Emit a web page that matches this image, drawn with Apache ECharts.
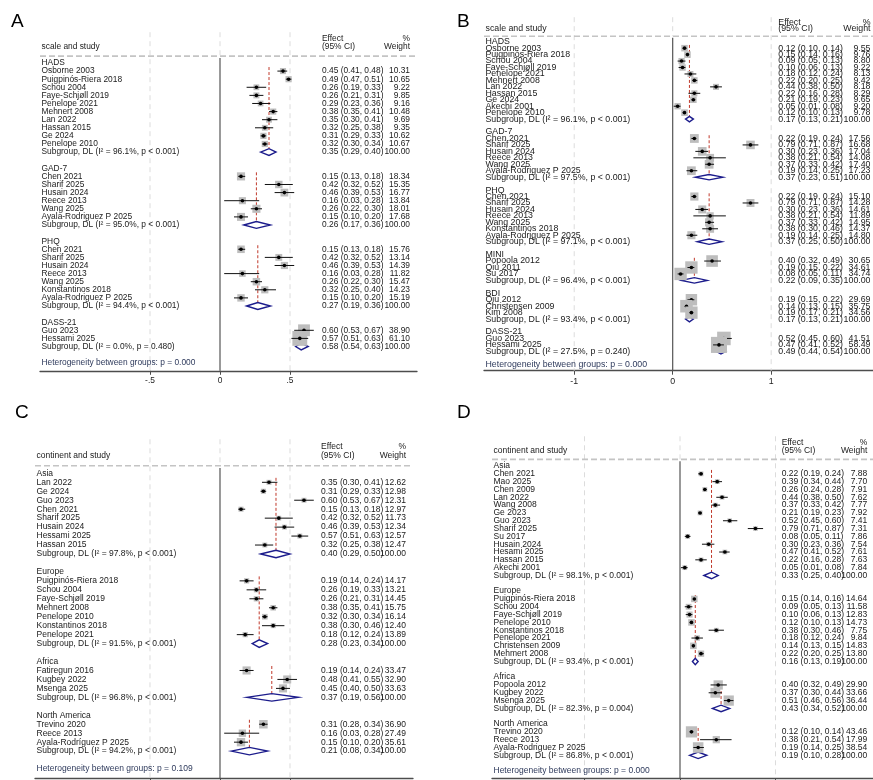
<!DOCTYPE html>
<html>
<head>
<meta charset="utf-8">
<script src="https://cdn.jsdelivr.net/npm/echarts@6/dist/echarts.min.js"></script>
<style>
html,body{margin:0;padding:0;background:#fff;}
#chart{width:873px;height:780px;}
</style>
</head>
<body>
<div id="chart"></div>
<script>
// ---------- Panel A: by assessment scale ----------
const groupsA = ['HADS', 'GAD-7', 'PHQ', 'DASS-21'];
const sizesA = [10, 6, 7, 2];
const studiesA = ['Osborne 2003', 'Puigpinós-Riera 2018', 'Schou 2004', 'Faye-Schjøll 2019', 'Penelope 2021', 'Mehnert 2008', 'Lan 2022', 'Hassan 2015', 'Ge 2024', 'Penelope 2010',
  'Chen 2021', 'Sharif 2025', 'Husain 2024', 'Reece 2013', 'Wang 2025', 'Ayala-Rodriguez P 2025',
  'Chen 2021', 'Sharif 2025', 'Husain 2024', 'Reece 2013', 'Wang 2025', 'Konstantinos 2018', 'Ayala-Rodriguez P 2025',
  'Guo 2023', 'Hessami 2025'];
const estA = [0.45, 0.49, 0.26, 0.26, 0.29, 0.38, 0.35, 0.32, 0.31, 0.32, 0.15, 0.42, 0.46, 0.16, 0.26, 0.15, 0.15, 0.42, 0.46, 0.16, 0.26, 0.32, 0.15, 0.60, 0.57];
const loA = [0.41, 0.47, 0.19, 0.21, 0.23, 0.35, 0.30, 0.25, 0.29, 0.30, 0.13, 0.32, 0.39, 0.03, 0.22, 0.10, 0.13, 0.32, 0.39, 0.03, 0.22, 0.25, 0.10, 0.53, 0.51];
const hiA = [0.48, 0.51, 0.33, 0.31, 0.36, 0.41, 0.41, 0.38, 0.33, 0.34, 0.18, 0.52, 0.53, 0.28, 0.30, 0.20, 0.18, 0.52, 0.53, 0.28, 0.30, 0.40, 0.20, 0.67, 0.63];
const wtA = [10.31, 10.65, 9.22, 9.85, 9.16, 10.48, 9.69, 9.35, 10.62, 10.67, 18.34, 15.35, 16.77, 13.84, 18.01, 17.68, 15.76, 13.14, 14.39, 11.82, 15.47, 14.23, 15.19, 38.90, 61.10];
const subEstA = [0.35, 0.26, 0.27, 0.58];
const subLoA = [0.29, 0.17, 0.19, 0.54];
const subHiA = [0.40, 0.36, 0.36, 0.63];
const subI2A = ['96.1%', '95.0%', '94.4%', '0.0%'];
const subPA = ['p < 0.001', 'p < 0.001', 'p < 0.001', 'p = 0.480'];
const hetPA = 'p = 0.000';
const ticksA = [-0.5, 0, 0.5];

// ---------- Panel B: by assessment scale ----------
const groupsB = ['HADS', 'GAD-7', 'PHQ', 'MINI', 'BDI', 'DASS-21'];
const sizesB = [11, 6, 7, 3, 3, 2];
const studiesB = ['Osborne 2003', 'Puigpinós-Riera 2018', 'Schou 2004', 'Faye-Schjøll 2019', 'Penelope 2021', 'Mehnert 2008', 'Lan 2022', 'Hassan 2015', 'Ge 2024', 'Akechi 2001', 'Penelope 2010',
  'Chen 2021', 'Sharif 2025', 'Husain 2024', 'Reece 2013', 'Wang 2025', 'Ayala-Rodriguez P 2025',
  'Chen 2021', 'Sharif 2025', 'Husain 2024', 'Reece 2013', 'Wang 2025', 'Konstantinos 2018', 'Ayala-Rodriguez P 2025',
  'Popoola 2012', 'Qiu 2011', 'Su 2017',
  'Qiu 2012', 'Christensen 2009', 'Kim 2008',
  'Guo 2023', 'Hessami 2025'];
const estB = [0.12, 0.15, 0.09, 0.10, 0.18, 0.22, 0.44, 0.22, 0.21, 0.05, 0.12, 0.22, 0.79, 0.30, 0.38, 0.37, 0.19, 0.22, 0.79, 0.30, 0.38, 0.37, 0.38, 0.19, 0.40, 0.19, 0.08, 0.19, 0.14, 0.19, 0.52, 0.47];
const loB = [0.10, 0.14, 0.05, 0.06, 0.12, 0.20, 0.38, 0.16, 0.19, 0.01, 0.10, 0.19, 0.71, 0.23, 0.21, 0.33, 0.14, 0.19, 0.71, 0.23, 0.21, 0.33, 0.30, 0.14, 0.32, 0.15, 0.05, 0.15, 0.13, 0.17, 0.45, 0.41];
const hiB = [0.14, 0.16, 0.13, 0.13, 0.24, 0.25, 0.50, 0.28, 0.23, 0.08, 0.13, 0.24, 0.87, 0.36, 0.54, 0.42, 0.25, 0.24, 0.87, 0.36, 0.54, 0.42, 0.46, 0.25, 0.49, 0.22, 0.11, 0.22, 0.15, 0.21, 0.60, 0.52];
const wtB = [9.55, 9.76, 8.80, 9.22, 8.13, 9.42, 8.18, 8.29, 9.65, 9.20, 9.78, 17.56, 16.68, 17.04, 14.08, 17.40, 17.23, 15.10, 14.28, 14.61, 11.89, 14.95, 14.37, 14.80, 30.65, 34.61, 34.74, 29.69, 35.75, 34.56, 41.51, 58.49];
const subEstB = [0.17, 0.37, 0.37, 0.22, 0.17, 0.49];
const subLoB = [0.13, 0.23, 0.25, 0.09, 0.13, 0.44];
const subHiB = [0.21, 0.51, 0.50, 0.35, 0.21, 0.54];
const subI2B = ['96.1%', '97.5%', '97.1%', '96.4%', '93.4%', '27.5%'];
const subPB = ['p < 0.001', 'p < 0.001', 'p < 0.001', 'p < 0.001', 'p < 0.001', 'p = 0.240'];
const hetPB = 'p = 0.000';
const ticksB = [-1, 0, 1];

// ---------- Panel C: by continent ----------
const groupsC = ['Asia', 'Europe', 'Africa', 'North America'];
const sizesC = [8, 7, 3, 3];
const studiesC = ['Lan 2022', 'Ge 2024', 'Guo 2023', 'Chen 2021', 'Sharif 2025', 'Husain 2024', 'Hessami 2025', 'Hassan 2015',
  'Puigpinós-Riera 2018', 'Schou 2004', 'Faye-Schjøll 2019', 'Mehnert 2008', 'Penelope 2010', 'Konstantinos 2018', 'Penelope 2021',
  'Fatiregun 2016', 'Kugbey 2022', 'Msenga 2025',
  'Trevino 2020', 'Reece 2013', 'Ayala-Rodríguez P 2025'];
const estC = [0.35, 0.31, 0.60, 0.15, 0.42, 0.46, 0.57, 0.32, 0.19, 0.26, 0.26, 0.38, 0.32, 0.38, 0.18, 0.19, 0.48, 0.45, 0.31, 0.16, 0.15];
const loC = [0.30, 0.29, 0.53, 0.13, 0.32, 0.39, 0.51, 0.25, 0.14, 0.19, 0.21, 0.35, 0.30, 0.30, 0.12, 0.14, 0.41, 0.40, 0.28, 0.03, 0.10];
const hiC = [0.41, 0.33, 0.67, 0.18, 0.52, 0.53, 0.63, 0.38, 0.24, 0.33, 0.31, 0.41, 0.34, 0.46, 0.24, 0.24, 0.55, 0.50, 0.34, 0.28, 0.20];
const wtC = [12.62, 12.98, 12.31, 12.97, 11.73, 12.34, 12.57, 12.47, 14.17, 13.21, 14.45, 15.75, 16.14, 12.40, 13.89, 33.47, 32.90, 33.63, 36.90, 27.49, 35.61];
const subEstC = [0.40, 0.28, 0.37, 0.21];
const subLoC = [0.29, 0.23, 0.19, 0.08];
const subHiC = [0.50, 0.34, 0.56, 0.34];
const subI2C = ['97.8%', '91.5%', '96.8%', '94.2%'];
const subPC = ['p < 0.001', 'p < 0.001', 'p < 0.001', 'p < 0.001'];
const hetPC = 'p = 0.109';
const ticksC = [-0.5, 0, 0.5];

// ---------- Panel D: by continent ----------
const groupsD = ['Asia', 'Europe', 'Africa', 'North America'];
const sizesD = [13, 8, 3, 3];
const studiesD = ['Chen 2021', 'Mao 2025', 'Chen 2009', 'Lan 2022', 'Wang 2008', 'Ge 2023', 'Guo 2023', 'Sharif 2025', 'Su 2017', 'Husain 2024', 'Hesami 2025', 'Hassan 2015', 'Akechi 2001',
  'Puigpinós-Riera 2018', 'Schou 2004', 'Faye-Schjøll 2019', 'Penelope 2010', 'Konstantinos 2018', 'Penelope 2021', 'Christensen 2009', 'Mehmert 2008',
  'Popoola 2012', 'Kugbey 2022', 'Msenga 2025',
  'Trevino 2020', 'Reece 2013', 'Ayala-Rodriguez P 2025'];
const estD = [0.22, 0.39, 0.26, 0.44, 0.37, 0.21, 0.52, 0.79, 0.08, 0.30, 0.47, 0.22, 0.05, 0.15, 0.09, 0.10, 0.12, 0.38, 0.18, 0.14, 0.22, 0.40, 0.37, 0.51, 0.12, 0.38, 0.19];
const loD = [0.19, 0.34, 0.24, 0.38, 0.33, 0.19, 0.45, 0.71, 0.05, 0.23, 0.41, 0.16, 0.01, 0.14, 0.05, 0.06, 0.10, 0.30, 0.12, 0.13, 0.20, 0.32, 0.30, 0.46, 0.10, 0.21, 0.14];
const hiD = [0.24, 0.44, 0.28, 0.50, 0.42, 0.23, 0.60, 0.87, 0.11, 0.36, 0.52, 0.28, 0.08, 0.16, 0.13, 0.13, 0.13, 0.46, 0.24, 0.15, 0.25, 0.49, 0.44, 0.56, 0.14, 0.54, 0.25];
const wtD = [7.88, 7.70, 7.91, 7.62, 7.77, 7.92, 7.41, 7.31, 7.86, 7.54, 7.61, 7.63, 7.84, 14.64, 11.58, 12.83, 14.73, 7.75, 9.84, 14.83, 13.80, 29.90, 33.66, 36.44, 43.46, 17.99, 38.54];
const subEstD = [0.33, 0.16, 0.43, 0.19];
const subLoD = [0.25, 0.13, 0.34, 0.10];
const subHiD = [0.40, 0.19, 0.52, 0.28];
const subI2D = ['98.1%', '93.4%', '82.3%', '86.8%'];
const subPD = ['p < 0.001', 'p < 0.001', 'p = 0.004', 'p < 0.001'];
const hetPD = 'p = 0.000';
const ticksD = [-1, 0, 1];

// ---------- layout and styling of the four panels ----------
const FONT = '"Liberation Sans", Arial, Helvetica, sans-serif';
const INK = '#1a1a1a';
const HET_INK = '#2e3a5c';
const layouts = [
  { letter: 'A', lx: 11, ly: 22, left: 40, width: 377, top: 32.2, height: 338.6, xMin: -1.2857, xMax: 1.4071, yMin: -3.8, yMax: 38, effX: 322, wtX: 410, fs: 8.4, boxK: 1.9, title: 'scale and study' },
  { letter: 'B', lx: 457, ly: 22, left: 484, width: 389, top: 17.2, height: 353.5, xMin: -1.916, xMax: 2.034, yMin: -3.8, yMax: 51, effX: 778.3, wtX: 870.5, fs: 8.8, boxK: 2.1, title: 'scale and study' },
  { letter: 'C', lx: 15, ly: 413, left: 35, width: 378, top: 439.3, height: 338.7, xMin: -1.3214, xMax: 1.3786, yMin: -3.8, yMax: 34, effX: 321, wtX: 406, fs: 8.5, boxK: 1.4, title: 'continent and study' },
  { letter: 'D', lx: 457, ly: 413, left: 492, width: 381, top: 436.3, height: 341.7, xMin: -1.9686, xMax: 2.0209, yMin: -3.8, yMax: 39.9, effX: 781.7, wtX: 867.3, fs: 8.5, boxK: 1.7, title: 'continent and study' }
];

const panels = [
  { groups: groupsA, sizes: sizesA, studies: studiesA, est: estA, lo: loA, hi: hiA, wt: wtA, subEst: subEstA, subLo: subLoA, subHi: subHiA, subI2: subI2A, subP: subPA, hetP: hetPA, ticks: ticksA },
  { groups: groupsB, sizes: sizesB, studies: studiesB, est: estB, lo: loB, hi: hiB, wt: wtB, subEst: subEstB, subLo: subLoB, subHi: subHiB, subI2: subI2B, subP: subPB, hetP: hetPB, ticks: ticksB },
  { groups: groupsC, sizes: sizesC, studies: studiesC, est: estC, lo: loC, hi: hiC, wt: wtC, subEst: subEstC, subLo: subLoC, subHi: subHiC, subI2: subI2C, subP: subPC, hetP: hetPC, ticks: ticksC },
  { groups: groupsD, sizes: sizesD, studies: studiesD, est: estD, lo: loD, hi: hiD, wt: wtD, subEst: subEstD, subLo: subLoD, subHi: subHiD, subI2: subI2D, subP: subPD, hetP: hetPD, ticks: ticksD }
];

// Row index of every line in a forest plot: group header, studies, pooled row, gap.
function layoutRows(sizes) {
  const head = [], studyRows = [], sub = [];
  let r = 0;
  sizes.forEach(n => {
    head.push(r);
    for (let i = 1; i <= n; i++) studyRows.push(r + i);
    sub.push(r + n + 1);
    r += n + 3;
  });
  return { head, studyRows, sub, het: sub[sub.length - 1] + 2 };
}

function fmtCI(e, l, h) {
  return e.toFixed(2) + ' (' + l.toFixed(2) + ', ' + h.toFixed(2) + ')';
}

function fmtTick(v) {
  if (v === 0) return '0';
  const s = String(Math.abs(v)).replace(/^0\./, '.');
  return (v < 0 ? '-' : '') + s;
}

const grids = [], xAxes = [], yAxes = [], series = [], graphics = [];

panels.forEach((P, idx) => {
  const L = layouts[idx];
  const rows = layoutRows(P.sizes);

  grids.push({ left: L.left, top: L.top, width: L.width, height: L.height, containLabel: false, outerBoundsMode: 'none' });
  xAxes.push({
    type: 'value', gridIndex: idx, min: L.xMin, max: L.xMax, position: 'bottom',
    axisLine: { show: true, onZero: false, lineStyle: { color: '#4d4d4d', width: 1.3 } },
    axisTick: { show: true, length: 4, customValues: P.ticks, lineStyle: { color: '#4d4d4d', width: 1 } },
    axisLabel: { show: true, customValues: P.ticks, margin: 6, fontSize: L.fs, fontFamily: FONT, color: '#222', formatter: fmtTick },
    splitLine: { show: false }
  });
  yAxes.push({ type: 'value', gridIndex: idx, min: L.yMin, max: L.yMax, inverse: true, show: false });

  graphics.push({
    type: 'text', x: L.lx, y: L.ly,
    style: { text: L.letter, fill: '#000', fontSize: 19, fontFamily: FONT, verticalAlign: 'middle' }
  });

  // reference lines at the tick values (null line solid)
  series.push({
    type: 'custom', xAxisIndex: idx, yAxisIndex: idx, z: 1, silent: true,
    data: P.ticks.map(t => [t, 0]),
    renderItem: (params, api) => {
      const cs = params.coordSys;
      const x = api.coord([api.value(0), 0])[0];
      const yTop = cs.y, yBot = cs.y + cs.height;
      const dashed = { stroke: '#dcdcdc', lineWidth: 1, lineDash: [5, 4] };
      if (api.value(0) === 0) {
        const yHdr = api.coord([0, -0.85])[1];
        const ySolid = api.coord([0, -0.6])[1];
        return { type: 'group', children: [
          { type: 'line', shape: { x1: x, y1: yTop, x2: x, y2: yHdr }, style: dashed },
          { type: 'line', shape: { x1: x, y1: ySolid, x2: x, y2: yBot }, style: { stroke: '#555', lineWidth: 1.2 } }
        ] };
      }
      return { type: 'line', shape: { x1: x, y1: yTop, x2: x, y2: yBot }, style: dashed };
    }
  });

  // dashed rule under the column headings
  series.push({
    type: 'custom', xAxisIndex: idx, yAxisIndex: idx, z: 1, silent: true,
    data: [[0, -0.85]],
    renderItem: (params, api) => {
      const cs = params.coordSys;
      const y = api.coord([0, api.value(1)])[1];
      return { type: 'line', shape: { x1: cs.x, y1: y, x2: cs.x + cs.width, y2: y }, style: { stroke: '#c4c4c4', lineWidth: 1.6, lineDash: [6, 3] } };
    }
  });

  // pooled subgroup estimates: red dashed line + diamond
  series.push({
    type: 'custom', xAxisIndex: idx, yAxisIndex: idx, z: 3, silent: true,
    data: P.subEst.map((e, g) => [e, P.subLo[g], P.subHi[g], rows.sub[g], rows.head[g] + 0.5]),
    renderItem: (params, api) => {
      const e = api.value(0), l = api.value(1), h = api.value(2), r = api.value(3), r0 = api.value(4);
      const hh = 0.42;
      const pts = [api.coord([l, r]), api.coord([e, r - hh]), api.coord([h, r]), api.coord([e, r + hh])];
      const top = api.coord([e, r0]);
      return { type: 'group', children: [
        { type: 'line', shape: { x1: top[0], y1: top[1], x2: pts[1][0], y2: pts[1][1] }, style: { stroke: '#c0392b', lineWidth: 1, lineDash: [3, 2] } },
        { type: 'polygon', shape: { points: pts }, style: { fill: '#fff', stroke: '#1c1c8c', lineWidth: 1.4 } }
      ] };
    }
  });

  // individual studies: weight box, confidence interval, point estimate
  series.push({
    type: 'custom', xAxisIndex: idx, yAxisIndex: idx, z: 4, silent: true,
    data: P.est.map((e, i) => [e, P.lo[i], P.hi[i], P.wt[i], rows.studyRows[i]]),
    renderItem: (params, api) => {
      const e = api.value(0), l = api.value(1), h = api.value(2), w = api.value(3), r = api.value(4);
      const c = api.coord([e, r]), a = api.coord([l, r]), b = api.coord([h, r]);
      const s = L.boxK * Math.sqrt(w);
      return { type: 'group', children: [
        { type: 'rect', shape: { x: c[0] - s / 2, y: c[1] - s / 2, width: s, height: s }, style: { fill: '#bdbdbd' } },
        { type: 'line', shape: { x1: a[0], y1: c[1], x2: b[0], y2: c[1] }, style: { stroke: '#111', lineWidth: 1 } },
        { type: 'circle', shape: { cx: c[0], cy: c[1], r: 1.8 }, style: { fill: '#000' } }
      ] };
    }
  });

  // text columns
  const nameX = L.left + 1.5;
  const texts = [];
  texts.push([-2, nameX, L.title, 'left', INK]);
  texts.push([-3, L.effX, 'Effect', 'left', INK]);
  texts.push([-2, L.effX, '(95% CI)', 'left', INK]);
  texts.push([-3, L.wtX, '%', 'right', INK]);
  texts.push([-2, L.wtX, 'Weight', 'right', INK]);
  P.groups.forEach((g, gi) => {
    texts.push([rows.head[gi], nameX, g, 'left', INK]);
    const sr = rows.sub[gi];
    texts.push([sr, nameX, 'Subgroup, DL (I\u00b2 = ' + P.subI2[gi] + ', ' + P.subP[gi] + ')', 'left', INK]);
    texts.push([sr, L.effX, fmtCI(P.subEst[gi], P.subLo[gi], P.subHi[gi]), 'left', INK]);
    texts.push([sr, L.wtX, '100.00', 'right', INK]);
  });
  P.studies.forEach((s, i) => {
    const r = rows.studyRows[i];
    texts.push([r, nameX, s, 'left', INK]);
    texts.push([r, L.effX, fmtCI(P.est[i], P.lo[i], P.hi[i]), 'left', INK]);
    texts.push([r, L.wtX, P.wt[i].toFixed(2), 'right', INK]);
  });
  texts.push([rows.het, nameX, 'Heterogeneity between groups: ' + P.hetP, 'left', HET_INK]);

  series.push({
    type: 'custom', xAxisIndex: idx, yAxisIndex: idx, z: 5, silent: true,
    data: texts.map(t => [0, t[0]]),
    renderItem: (params, api) => {
      const t = texts[params.dataIndex];
      const y = api.coord([0, api.value(1)])[1];
      return { type: 'text', x: t[1], y: y, style: { text: t[2], fill: t[4], fontSize: L.fs, fontFamily: FONT, align: t[3], verticalAlign: 'middle' } };
    }
  });
});

const chart = echarts.init(document.getElementById('chart'), null, { renderer: 'canvas' });
chart.setOption({
  animation: false,
  backgroundColor: '#ffffff',
  grid: grids,
  xAxis: xAxes,
  yAxis: yAxes,
  series: series,
  graphic: graphics
});
</script>
</body>
</html>
